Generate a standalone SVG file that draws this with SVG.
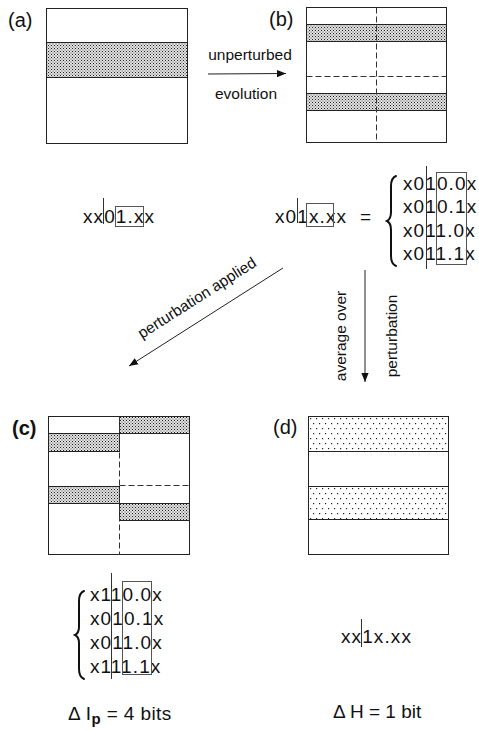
<svg xmlns="http://www.w3.org/2000/svg" width="479" height="730" viewBox="0 0 479 730">
<defs>
<pattern id="fine" width="3" height="3" patternUnits="userSpaceOnUse">
<rect width="3" height="3" fill="#e0e0e0"/>
<rect x="0" y="0" width="1" height="1" fill="#222"/>
<rect x="1.5" y="1.5" width="1" height="1" fill="#555"/>
</pattern>
<pattern id="sparse" width="6" height="10" patternUnits="userSpaceOnUse" x="309" y="417">
<rect x="1" y="1" width="1.2" height="1.2" fill="#222"/>
<rect x="4" y="6" width="1.2" height="1.2" fill="#222"/>
</pattern>
<marker id="ah" viewBox="0 0 10 10" refX="10" refY="5" markerWidth="9" markerHeight="9" markerUnits="userSpaceOnUse" orient="auto">
<path d="M0,1 L10,5 L0,9 Z" fill="#111"/>
</marker>
</defs>
<style>
.frame{fill:#fff;stroke:#222;stroke-width:1}
.band{stroke:#222;stroke-width:1}
.dash{stroke:#333;stroke-width:1;stroke-dasharray:6,3;fill:none}
.lab{font-family:"Liberation Sans",Arial,sans-serif;font-size:20px;fill:#111}
.lbl{font-family:"Liberation Sans",Arial,sans-serif;font-size:15.5px;fill:#111}
.bits{font-family:"Liberation Sans",Arial,sans-serif;font-size:19px;letter-spacing:1.1px;fill:#111}
.eq{font-family:"Liberation Sans",Arial,sans-serif;font-size:19px;fill:#111}
.sep{stroke:#333;stroke-width:1}
.box{fill:none;stroke:#555;stroke-width:1}
.brace{fill:none;stroke:#111;stroke-width:2;stroke-linecap:round}
.conn{stroke:#222;stroke-width:1;fill:none}
</style>

<g id="panel-a">
<text class="lab" x="8" y="27">(a)</text>
<rect class="frame" x="46.5" y="8.5" width="141" height="135"/>
<rect class="band" x="46.5" y="42.5" width="141" height="35" fill="url(#fine)"/>
</g>

<g id="panel-b">
<text class="lab" x="269" y="26">(b)</text>
<rect class="frame" x="306.5" y="7.5" width="140" height="135"/>
<rect class="band" x="306.5" y="24.5" width="140" height="17" fill="url(#fine)"/>
<rect class="band" x="306.5" y="93.5" width="140" height="17" fill="url(#fine)"/>
<line class="dash" x1="376.5" y1="7.5" x2="376.5" y2="142.5"/>
<line class="dash" x1="306.5" y1="76.5" x2="446.5" y2="76.5"/>
</g>

<g id="panel-c">
<text class="lab" x="12" y="435" font-weight="bold">(c)</text>
<rect class="frame" x="48.5" y="416.5" width="141" height="138"/>
<rect class="band" x="48.5" y="433.5" width="71" height="18" fill="url(#fine)"/>
<rect class="band" x="48.5" y="486.5" width="71" height="17" fill="url(#fine)"/>
<rect class="band" x="119.5" y="416.5" width="70" height="17" fill="url(#fine)"/>
<rect class="band" x="119.5" y="503.5" width="70" height="17" fill="url(#fine)"/>
<line class="dash" x1="119.5" y1="416.5" x2="119.5" y2="554.5"/>
<line class="dash" x1="119.5" y1="485.5" x2="189.5" y2="485.5"/>
</g>

<g id="panel-d">
<text class="lab" x="273" y="434">(d)</text>
<rect class="frame" x="308.5" y="416.5" width="140" height="138"/>
<rect class="band" x="308.5" y="416.5" width="140" height="35" fill="url(#sparse)"/>
<rect class="band" x="308.5" y="486.5" width="140" height="33" fill="url(#sparse)"/>
</g>

<g id="state-a">
<text class="bits" x="83" y="223">xx01.xx</text>
<line class="sep" x1="103.5" y1="198" x2="103.5" y2="224"/>
<rect class="box" x="115.5" y="206.5" width="28" height="20"/>
</g>

<g id="state-b">
<text class="bits" x="275" y="223">x01x.xx</text>
<line class="sep" x1="297.5" y1="198" x2="297.5" y2="223"/>
<rect class="box" x="306.5" y="203.5" width="27" height="23"/>
<text class="eq" x="360" y="223">=</text>
<path class="brace" d="M396,176 Q391,178 391,186 L391,212 Q391,219 387,221 Q391,223 391,230 L391,256 Q391,264 396,266"/>
<text class="bits" x="403" y="189.5">x010.0x</text>
<text class="bits" x="403" y="213">x010.1x</text>
<text class="bits" x="403" y="236.5">x011.0x</text>
<text class="bits" x="403" y="260">x011.1x</text>
<line class="sep" x1="426.5" y1="166" x2="426.5" y2="269"/>
<rect class="box" x="436.5" y="172.5" width="30" height="92"/>
</g>

<g id="state-c">
<path class="brace" d="M84,591 Q79,593 79,601 L79,627 Q79,633 75,635 Q79,637 79,643 L79,669 Q79,677 84,679"/>
<text class="bits" x="90" y="601">x110.0x</text>
<text class="bits" x="90" y="625">x010.1x</text>
<text class="bits" x="90" y="648.5">x011.0x</text>
<text class="bits" x="90" y="672.5">x111.1x</text>
<line class="sep" x1="111.5" y1="573" x2="111.5" y2="679"/>
<rect class="box" x="122.5" y="581.5" width="29" height="93"/>
<text class="eq" x="68" y="720" letter-spacing="0.4">Δ I<tspan font-weight="bold" font-size="15" dy="4">p</tspan><tspan dy="-4"> = 4 bits</tspan></text>
</g>

<g id="state-d">
<text class="bits" x="341" y="643">xx1x.xx</text>
<line class="sep" x1="361.5" y1="619" x2="361.5" y2="647"/>
<text class="eq" x="333" y="718">Δ H = 1 bit</text>
</g>

<g id="connectors">
<line class="conn" x1="208" y1="74" x2="286" y2="73.5" marker-end="url(#ah)"/>
<line class="conn" x1="365" y1="270" x2="365" y2="382" marker-end="url(#ah)"/>
<line class="conn" x1="283" y1="268" x2="129" y2="366" marker-end="url(#ah)"/>
<text class="lbl" x="250" y="60" text-anchor="middle">unperturbed</text>
<text class="lbl" x="246" y="99" text-anchor="middle">evolution</text>
<text class="lbl" text-anchor="middle" transform="translate(197,298) rotate(-32.5)" y="5">perturbation applied</text>
<text class="lbl" text-anchor="middle" transform="translate(346,336) rotate(-90)">average over</text>
<text class="lbl" text-anchor="middle" transform="translate(397,336) rotate(-90)">perturbation</text>
</g>
</svg>
